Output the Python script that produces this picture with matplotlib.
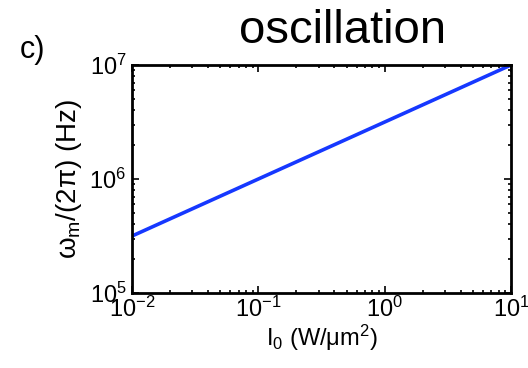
import numpy as np
import matplotlib
matplotlib.use("Agg")
import matplotlib.pyplot as plt
from matplotlib.ticker import LogLocator, NullFormatter

plt.rcParams['font.family'] = ['Liberation Sans', 'DejaVu Sans']
plt.rcParams['mathtext.fontset'] = 'custom'
plt.rcParams['mathtext.rm'] = 'Liberation Sans'
plt.rcParams['mathtext.it'] = 'Liberation Sans:italic'
plt.rcParams['mathtext.sf'] = 'Liberation Sans'

# Intensity (W/um^2) and mechanical frequency (Hz)
intensity = [1e-2, 1e-1, 1e0, 1e1]
freq_hz = [3.16e5, 1.0e6, 3.16e6, 1.0e7]

x_ticks = [1e-2, 1e-1, 1e0, 1e1]
x_ticklabels = [r'$\mathrm{10^{-2}}$', r'$\mathrm{10^{-1}}$', r'$\mathrm{10^{0}}$', r'$\mathrm{10^{1}}$']
y_ticks = [1e5, 1e6, 1e7]
y_ticklabels = [r'$\mathrm{10^{5}}$', r'$\mathrm{10^{6}}$', r'$\mathrm{10^{7}}$']

fig = plt.figure(figsize=(5.28, 3.68), dpi=100)
ax = fig.add_axes([132/528, 1 - 293/368, (511-132)/528, (293-65)/368])

ax.loglog(intensity, freq_hz, color='#1638ff', lw=2.6, solid_capstyle='butt')
ax.set_xlim(1e-2, 1e1)
ax.set_ylim(1e5, 1e7)

ax.set_xticks(x_ticks)
ax.set_xticklabels(x_ticklabels)
ax.set_yticks(y_ticks)
ax.set_yticklabels(y_ticklabels)
ax.xaxis.set_minor_locator(LogLocator(base=10, subs=np.arange(2, 10)))
ax.yaxis.set_minor_locator(LogLocator(base=10, subs=np.arange(2, 10)))
ax.xaxis.set_minor_formatter(NullFormatter())
ax.yaxis.set_minor_formatter(NullFormatter())

ax.tick_params(which='both', direction='in', top=True, right=True, labelsize=17, width=1.2)
ax.tick_params(which='major', length=5)
ax.tick_params(axis='x', which='major', pad=3)
ax.tick_params(axis='y', which='major', pad=4)
ax.tick_params(which='minor', length=2.5)
for s in ax.spines.values():
    s.set_linewidth(2)

ax.set_xlabel(r'I$_\mathrm{0}$ (W/μm$^\mathrm{2}$)', fontsize=17, labelpad=0)
ax.set_ylabel(r'ω$_\mathrm{m}$/(2π) (Hz)', fontsize=20, labelpad=4)

fig.text(343/528, 1 - 43/368, 'oscillation', fontsize=34, ha='center', va='baseline')
fig.text(20/528, 1 - 58/368, 'c)', fontsize=22, ha='left', va='baseline')

fig.savefig('out.png', dpi=100)
